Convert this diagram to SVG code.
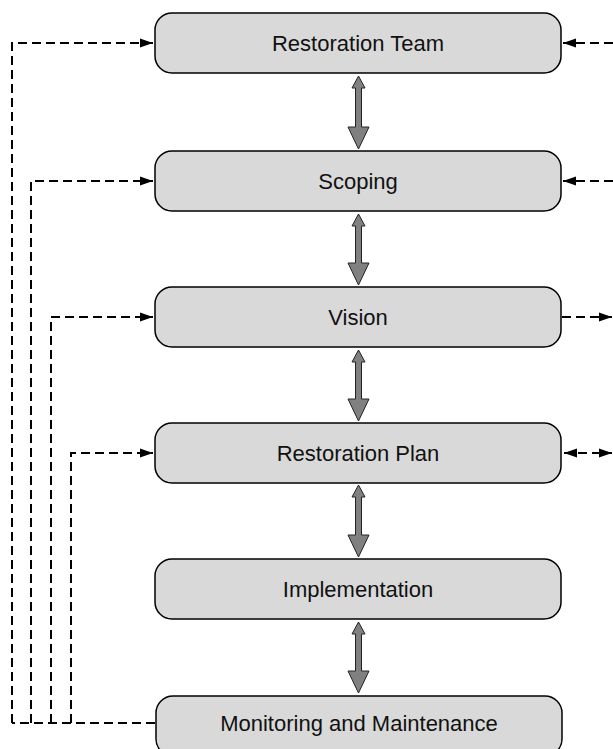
<svg xmlns="http://www.w3.org/2000/svg" width="613" height="749" viewBox="0 0 613 749">
<defs>
<marker id="ah" markerUnits="userSpaceOnUse" markerWidth="15" markerHeight="11" refX="13" refY="5" orient="auto-start-reverse">
<path d="M0,0.5 L13,5 L0,9.5 z" fill="#000"/>
</marker>
<style>
.box{fill:#d9d9d9;stroke:#000;stroke-width:1.5}
.lbl{font-family:"Liberation Sans",Arial,sans-serif;font-size:22px;fill:#111;text-anchor:middle}
.dash{fill:none;stroke:#000;stroke-width:2;stroke-dasharray:9 5}
.blk{fill:#808080;stroke:#222;stroke-width:1}
</style>
</defs>
<rect width="613" height="749" fill="#fff"/>
<g id="connectors">
<path class="dash" d="M155,723 H12"/>
<path class="dash" d="M12,723 V43 H153" marker-end="url(#ah)"/>
<path class="dash" d="M31,723 V181 H153" marker-end="url(#ah)"/>
<path class="dash" d="M51,723 V317 H153" marker-end="url(#ah)"/>
<path class="dash" d="M71,723 V453 H153" marker-end="url(#ah)"/>
<path class="dash" d="M613,43 H563" marker-end="url(#ah)"/>
<path class="dash" d="M613,181 H563" marker-end="url(#ah)"/>
<path class="dash" d="M562,317 H612" marker-end="url(#ah)"/>
<path class="dash" d="M564,453 H612" marker-start="url(#ah)" marker-end="url(#ah)"/>
<polygon class="blk" points="358.5,76 365,88 361.5,88 361.5,127 369,127 358.5,149 348,127 355.5,127 355.5,88 352,88"/>
<polygon class="blk" points="358.5,214 365,226 361.5,226 361.5,263 369,263 358.5,285 348,263 355.5,263 355.5,226 352,226"/>
<polygon class="blk" points="358.5,350 365,362 361.5,362 361.5,399 369,399 358.5,421 348,399 355.5,399 355.5,362 352,362"/>
<polygon class="blk" points="358.5,485 365,497 361.5,497 361.5,535 369,535 358.5,557 348,535 355.5,535 355.5,497 352,497"/>
<polygon class="blk" points="358.5,622 365,634 361.5,634 361.5,671 369,671 358.5,693 348,671 355.5,671 355.5,634 352,634"/>
</g>
<g id="n1"><rect class="box" x="155" y="13" width="406" height="60" rx="17"/><text class="lbl" x="358" y="51">Restoration Team</text></g>
<g id="n2"><rect class="box" x="155" y="151" width="406" height="60" rx="17"/><text class="lbl" x="358" y="189">Scoping</text></g>
<g id="n3"><rect class="box" x="155" y="287" width="406" height="60" rx="17"/><text class="lbl" x="358" y="325">Vision</text></g>
<g id="n4"><rect class="box" x="155" y="423" width="406" height="60" rx="17"/><text class="lbl" x="358" y="461">Restoration Plan</text></g>
<g id="n5"><rect class="box" x="155" y="559" width="406" height="60" rx="17"/><text class="lbl" x="358" y="597">Implementation</text></g>
<g id="n6"><rect class="box" x="156" y="696" width="406" height="60" rx="17"/><text class="lbl" x="359" y="731">Monitoring and Maintenance</text></g>
</svg>
